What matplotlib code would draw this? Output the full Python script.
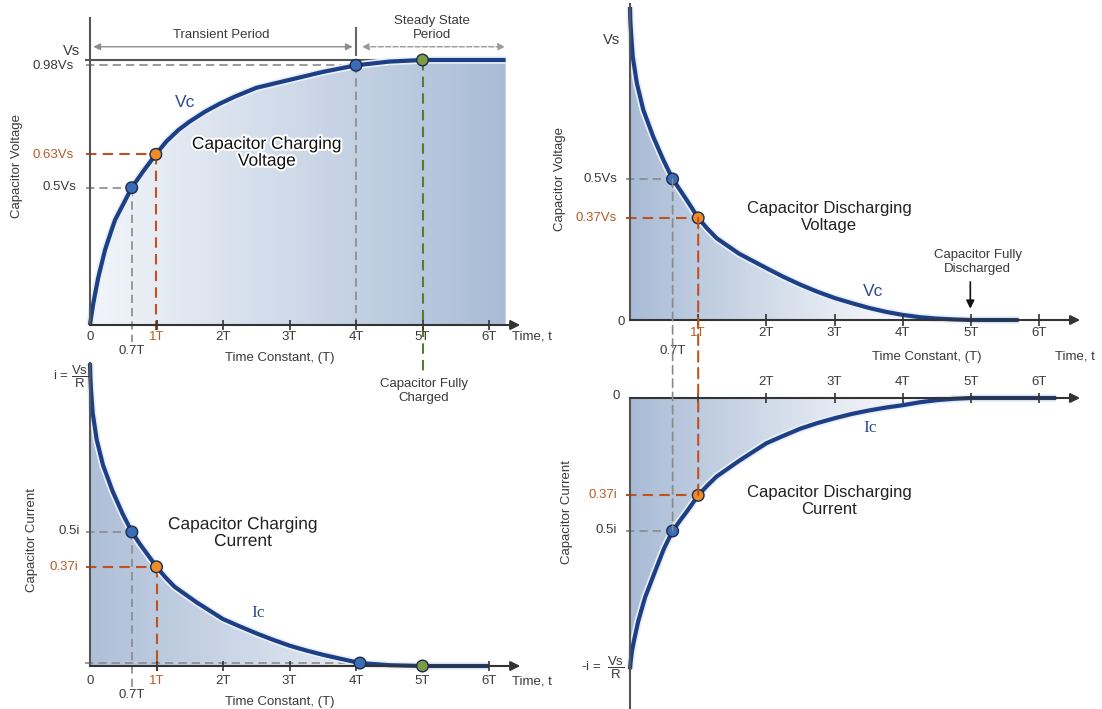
import numpy as np
import matplotlib
matplotlib.use("Agg")
import matplotlib.pyplot as plt
from matplotlib.colors import LinearSegmentedColormap
from matplotlib.patches import PathPatch, ConnectionPatch
from matplotlib.path import Path
import matplotlib.patheffects as pe

# ---- data (time in units of T) ----
t_vchg = [0, 0.02, 0.05, 0.09, 0.125, 0.226, 0.3, 0.376, 0.5, 0.627, 0.8, 0.99, 1.15, 1.33,
          1.5, 1.73, 1.95, 2.18, 2.5, 3.0, 3.5, 4.0, 4.5, 5.0, 6.25]
v_vchg = [0, 0.035, 0.082, 0.135, 0.18, 0.283, 0.34, 0.396, 0.456, 0.518, 0.58, 0.644, 0.693, 0.736,
          0.768, 0.805, 0.835, 0.862, 0.895, 0.925, 0.955, 0.98, 0.994, 1.0, 1.0]

t_vdis = [0, 0.005, 0.015, 0.04, 0.1, 0.195, 0.34, 0.49, 0.625, 0.75, 0.83, 1.0, 1.13, 1.27, 1.6,
          2.0, 2.25, 2.5, 2.75, 3.0, 3.25, 3.5, 3.75, 4.0, 4.25, 4.5, 4.75, 5.0, 5.7]
v_vdis = [1.11, 1.06, 1.02, 0.934, 0.84, 0.745, 0.65, 0.567, 0.50, 0.455, 0.426, 0.362, 0.325, 0.29, 0.235,
          0.184, 0.153, 0.125, 0.10, 0.078, 0.06, 0.043, 0.029, 0.018, 0.01, 0.005, 0.002, 0.0, 0.0]

t_ichg = [0, 0.005, 0.015, 0.04, 0.1, 0.195, 0.34, 0.49, 0.63, 0.75, 0.83, 1.0, 1.13, 1.27, 1.6,
          2.0, 2.25, 2.5, 2.75, 3.0, 3.25, 3.5, 3.75, 4.06, 4.5, 5.0, 6.0]
i_ichg = [1.13, 1.08, 1.03, 0.945, 0.845, 0.75, 0.652, 0.568, 0.50, 0.455, 0.428, 0.37, 0.332, 0.296, 0.238,
          0.175, 0.148, 0.122, 0.098, 0.076, 0.058, 0.042, 0.028, 0.011, 0.003, 0.0, 0.0]

t_idis = [0, 0.01, 0.03, 0.06, 0.12, 0.22, 0.37, 0.5, 0.625, 0.75, 0.83, 1.0, 1.13, 1.27, 1.6,
          2.0, 2.25, 2.5, 2.75, 3.0, 3.25, 3.5, 3.75, 4.0, 4.25, 4.5, 4.75, 5.0, 6.25]
i_idis = [-1.02, -0.99, -0.95, -0.91, -0.84, -0.75, -0.65, -0.565, -0.50, -0.455, -0.428, -0.366, -0.33, -0.295, -0.236,
          -0.17, -0.142, -0.115, -0.094, -0.076, -0.06, -0.047, -0.036, -0.027, -0.016, -0.008, -0.003, 0.0, 0.0]

# marked points: (t, value)
mk_vchg_t = [0.627, 0.99, 4.0, 5.0]
mk_vchg_v = [0.518, 0.644, 0.98, 1.0]
mk_vdis_t = [0.625, 1.0]
mk_vdis_v = [0.50, 0.362]
mk_ichg_t = [0.63, 1.0, 4.06, 5.0]
mk_ichg_v = [0.50, 0.37, 0.011, 0.0]
mk_idis_t = [0.625, 1.0]
mk_idis_v = [-0.50, -0.366]

ticks = [1, 2, 3, 4, 5, 6]
tick_labels = ["1T", "2T", "3T", "4T", "5T", "6T"]

# ---- style ----
plt.rcParams["font.family"] = ["Liberation Sans", "DejaVu Sans"]
plt.rcParams["mathtext.fontset"] = "custom"
plt.rcParams["mathtext.rm"] = "Liberation Sans"

CURVE = "#1c3f85"
GLOW = "#e9eff7"
TXT = "#3a3a3a"
ORANGE_TXT = "#b85a24"
ORANGE = "#c0521e"
GREY = "#8a8a8a"
GREEN = "#5b7a2e"
BLUE_PT = "#3b6cb5"
ORANGE_PT = "#f08c28"
GREEN_PT = "#7d9a45"
DASH = (0, (5, 3))
FS = 9.5

W, H = 1102, 709
fig = plt.figure(figsize=(W / 100, H / 100), dpi=100)


def panel(x0, y0, sx, sy):
    # full-figure transparent axes whose origin sits at pixel (x0, y0)
    ax = fig.add_axes([0, 0, 1, 1])
    ax.set_xlim(-x0 / sx, (W - x0) / sx)
    ax.set_ylim(-(H - y0) / sy, y0 / sy)
    ax.axis("off")
    ax.patch.set_alpha(0)
    return ax


def gradient_fill(ax, t, v, stops):
    verts = [(t[0], 0)] + list(zip(t, v)) + [(t[-1], 0)]
    clip = PathPatch(Path(verts), transform=ax.transData, facecolor="none", edgecolor="none")
    ax.add_patch(clip)
    cmap = LinearSegmentedColormap.from_list("g", stops)
    grad = np.linspace(0, 1, 256).reshape(1, -1)
    lo, hi = min(0, min(v)), max(0, max(v))
    im = ax.imshow(grad, extent=[t[0], t[-1], lo, hi], cmap=cmap, aspect="auto",
                   interpolation="bilinear", zorder=1)
    im.set_clip_path(clip)


def curve(ax, t, v):
    ax.plot(t, v, color=GLOW, lw=5.5, solid_capstyle="butt", solid_joinstyle="round", zorder=3)
    ax.plot(t, v, color=CURVE, lw=3, solid_capstyle="butt", solid_joinstyle="round", zorder=4)


def axes_lines(ax, ytop, ybot, xend, tick_h):
    ax.plot([0, 0], [ybot, ytop], color="#555555", lw=1.5, zorder=5)
    ax.annotate("", xy=(xend, 0), xytext=(0, 0),
                arrowprops=dict(arrowstyle="-|>", color="#333333", lw=1.5,
                                mutation_scale=14, shrinkA=0, shrinkB=0), zorder=5)
    ax.vlines(ticks, -tick_h, tick_h, color="#333333", lw=1.2, zorder=5)


def points(ax, t, v, colors):
    ax.scatter(t, v, s=70, c=colors, edgecolors="#1a2b4c", linewidths=1, zorder=7)


def hdash(ax, y, x1, color, lw=1.2, x0=-0.06):
    ax.plot([x0, x1], [y, y], color=color, lw=lw, linestyle=DASH, zorder=2)


def vdash(ax, x, y0, y1, color, lw=1.2):
    ax.plot([x, x], [y0, y1], color=color, lw=lw, linestyle=DASH, zorder=2)


def txt(ax, x, y, s, size=FS, color=TXT, ha="center", **kw):
    ax.text(x, y, s, fontsize=size, color=color, ha=ha, va="center", **kw)


outline = [pe.withStroke(linewidth=3, foreground="white")]

# ================= top left: charging voltage =================
ax1 = panel(90, 325, 66.5, 265)
gradient_fill(ax1, t_vchg, v_vchg, ["#f2f5fa", "#a9bcd6"])
ax1.plot([-0.06, 5.8], [1.0, 1.0], color="#555555", lw=1.5, zorder=2)
hdash(ax1, 0.98, 4.0, GREY)
hdash(ax1, mk_vchg_v[1], mk_vchg_t[1], ORANGE, lw=1.5)
hdash(ax1, mk_vchg_v[0], mk_vchg_t[0], GREY)
vdash(ax1, mk_vchg_t[0], mk_vchg_v[0], -0.065, GREY)
vdash(ax1, mk_vchg_t[1], mk_vchg_v[1], -0.02, ORANGE, lw=1.5)
vdash(ax1, 4.0, 0.98, 0.0, GREY)
vdash(ax1, 5.0, 1.0, -0.18, GREEN, lw=1.5)
curve(ax1, t_vchg, v_vchg)
axes_lines(ax1, 1.16, 0, 6.47, 0.02)
points(ax1, mk_vchg_t, mk_vchg_v, [BLUE_PT, ORANGE_PT, BLUE_PT, GREEN_PT])

ax1.plot([4.0, 4.0], [1.02, 1.12], color="#666666", lw=1.5)
ax1.annotate("", xy=(3.95, 1.05), xytext=(0.05, 1.05),
             arrowprops=dict(arrowstyle="<|-|>", color="#8c8c8c", lw=1, mutation_scale=10,
                             shrinkA=0, shrinkB=0))
ax1.annotate("", xy=(6.24, 1.05), xytext=(4.09, 1.05),
             arrowprops=dict(arrowstyle="<|-|>", color="#9a9a9a", lw=1, mutation_scale=10,
                             linestyle="--", shrinkA=0, shrinkB=0))
txt(ax1, 1.98, 1.094, "Transient Period")
txt(ax1, 5.14, 1.12, "Steady State\nPeriod", linespacing=1.25)

txt(ax1, -0.15, 1.034, "Vs", size=10.5, ha="right")
txt(ax1, -0.24, 0.977, "0.98Vs", ha="right")
txt(ax1, -0.24, 0.64, "0.63Vs", color=ORANGE_TXT, ha="right")
txt(ax1, -0.21, 0.52, "0.5Vs", ha="right")
txt(ax1, -1.10, 0.60, "Capacitor Voltage", rotation=90)
txt(ax1, 0, -0.045, "0")
for tk, lb in zip(ticks, tick_labels):
    txt(ax1, tk, -0.045, lb, color=ORANGE_TXT if tk == 1 else TXT)
txt(ax1, 0.63, -0.10, "0.7T")
txt(ax1, 2.86, -0.125, "Time Constant, (T)")
txt(ax1, 6.35, -0.045, "Time, t", ha="left")
txt(ax1, 5.02, -0.25, "Capacitor Fully\nCharged", linespacing=1.25)
txt(ax1, 1.43, 0.84, "Vc", size=12.5, color="#2b4d8c")
txt(ax1, 2.66, 0.65, "Capacitor Charging\nVoltage", size=12.5, color="#111111",
    linespacing=1.15, path_effects=outline)

# ================= top right: discharging voltage =================
ax2 = panel(630, 320, 68.2, 282)
gradient_fill(ax2, t_vdis, v_vdis, [(0, "#a9bcd6"), (0.75, "#ffffff"), (1, "#ffffff")])
hdash(ax2, mk_vdis_v[0], mk_vdis_t[0], GREY)
hdash(ax2, mk_vdis_v[1], mk_vdis_t[1], ORANGE, lw=1.5)
curve(ax2, t_vdis, v_vdis)
axes_lines(ax2, 1.12, 0, 6.6, 0.02)
points(ax2, mk_vdis_t, mk_vdis_v, [BLUE_PT, ORANGE_PT])

txt(ax2, -0.15, 0.993, "Vs", size=10.5, ha="right")
txt(ax2, -0.19, 0.5, "0.5Vs", ha="right")
txt(ax2, -0.19, 0.362, "0.37Vs", color=ORANGE_TXT, ha="right")
txt(ax2, -0.07, -0.007, "0", ha="right")
txt(ax2, -1.03, 0.5, "Capacitor Voltage", rotation=90)
for tk, lb in zip(ticks, tick_labels):
    txt(ax2, tk, -0.046, lb, color=ORANGE_TXT if tk == 1 else TXT)
txt(ax2, 0.625, -0.11, "0.7T")
txt(ax2, 4.35, -0.13, "Time Constant, (T)")
txt(ax2, 6.23, -0.13, "Time, t", ha="left")
txt(ax2, 2.92, 0.365, "Capacitor Discharging\nVoltage", size=12, color="#222222", linespacing=1.2)
txt(ax2, 3.56, 0.10, "Vc", size=12.5, color="#2b4d8c")
txt(ax2, 5.1, 0.205, "Capacitor Fully\nDischarged", linespacing=1.25)
ax2.annotate("", xy=(4.99, 0.04), xytext=(4.99, 0.135),
             arrowprops=dict(arrowstyle="-|>", color="#111111", lw=1.2, mutation_scale=12,
                             shrinkA=0, shrinkB=0))

# ================= bottom left: charging current =================
ax3 = panel(90, 666, 66.5, 268)
gradient_fill(ax3, t_ichg, i_ichg, [(0, "#aebfd8"), (0.85, "#f4f6fa"), (1, "#ffffff")])
hdash(ax3, mk_ichg_v[2], mk_ichg_t[2], GREY, x0=-0.08)
hdash(ax3, mk_ichg_v[0], mk_ichg_t[0], GREY)
hdash(ax3, mk_ichg_v[1], mk_ichg_t[1], ORANGE, lw=1.5)
vdash(ax3, mk_ichg_t[0], mk_ichg_v[0], -0.08, GREY)
vdash(ax3, mk_ichg_t[1], mk_ichg_v[1], -0.02, ORANGE, lw=1.5)
curve(ax3, t_ichg, i_ichg)
axes_lines(ax3, 1.13, 0, 6.47, 0.02)
points(ax3, mk_ichg_t, mk_ichg_v, [BLUE_PT, ORANGE_PT, BLUE_PT, GREEN_PT])

txt(ax3, -0.55, 1.08, r"i = $\dfrac{\mathrm{Vs}}{\mathrm{R}}$", ha="left")
txt(ax3, -0.15, 0.504, "0.5i", ha="right")
txt(ax3, -0.18, 0.37, "0.37i", color=ORANGE_TXT, ha="right")
txt(ax3, -0.87, 0.47, "Capacitor Current", rotation=90)
txt(ax3, 0, -0.056, "0")
for tk, lb in zip(ticks, tick_labels):
    txt(ax3, tk, -0.056, lb, color=ORANGE_TXT if tk == 1 else TXT)
txt(ax3, 0.63, -0.108, "0.7T")
txt(ax3, 2.86, -0.134, "Time Constant, (T)")
txt(ax3, 6.35, -0.056, "Time, t", ha="left")
txt(ax3, 2.3, 0.496, "Capacitor Charging\nCurrent", size=12.5, color="#222222",
    linespacing=1.15, path_effects=outline)
txt(ax3, 2.53, 0.198, "Ic", size=12.5, color="#2b4d8c", family="Liberation Serif")

# ================= bottom right: discharging current =================
ax4 = panel(630, 398, 68.2, 266)
gradient_fill(ax4, t_idis, i_idis, [(0, "#a9bcd6"), (0.7, "#ffffff"), (1, "#ffffff")])
hdash(ax4, mk_idis_v[0], mk_idis_t[0], GREY)
hdash(ax4, mk_idis_v[1], mk_idis_t[1], ORANGE, lw=1.5)
curve(ax4, t_idis, i_idis)
axes_lines(ax4, 0, -1.17, 6.6, 0.02)
points(ax4, mk_idis_t, mk_idis_v, [BLUE_PT, ORANGE_PT])

txt(ax4, -0.15, 0.007, "0", ha="right")
txt(ax4, -0.19, -0.365, "0.37i", color=ORANGE_TXT, ha="right")
txt(ax4, -0.19, -0.496, "0.5i", ha="right")
txt(ax4, -0.72, -1.015, r"-i =  $\dfrac{\mathrm{Vs}}{\mathrm{R}}$", ha="left")
txt(ax4, -0.92, -0.43, "Capacitor Current", rotation=90)
for tk, lb in zip(ticks[1:], tick_labels[1:]):
    txt(ax4, tk, 0.06, lb)
txt(ax4, 2.92, -0.387, "Capacitor Discharging\nCurrent", size=12, color="#222222", linespacing=1.2)
txt(ax4, 3.52, -0.113, "Ic", size=12.5, color="#2b4d8c", family="Liberation Serif")

# dashed guides running from the voltage panel down into the current panel
for k, col, lw in [(0, GREY, 1.2), (1, ORANGE, 1.5)]:
    con = ConnectionPatch(xyA=(mk_vdis_t[k], mk_vdis_v[k]), coordsA=ax2.transData,
                          xyB=(mk_idis_t[k], mk_idis_v[k]), coordsB=ax4.transData,
                          color=col, lw=lw, linestyle=DASH, zorder=2)
    fig.add_artist(con)

fig.savefig("out.png", dpi=100, facecolor="white")
